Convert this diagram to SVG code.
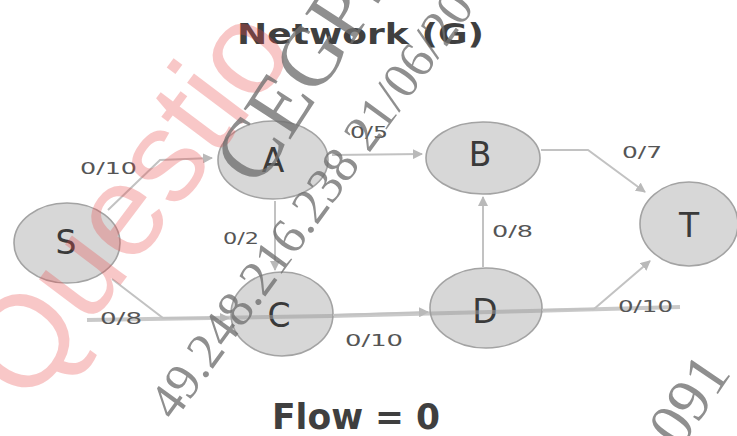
<svg xmlns="http://www.w3.org/2000/svg" width="737" height="436" viewBox="0 0 737 436">
  <defs>
    <style>
      .node ellipse { fill: #d7d7d7; stroke: #a3a3a3; stroke-width: 1.6; }
      .node text { font-family: "DejaVu Sans", "Liberation Sans", sans-serif; font-size: 33px; fill: #3a3a3a; text-anchor: middle; }
      .edge { fill: none; stroke: #c2c2c2; stroke-width: 2; }
      .lbl { font-family: "DejaVu Sans", "Liberation Sans", sans-serif; font-size: 16px; fill: #555; }
      .title { font-family: "DejaVu Sans", "Liberation Sans", sans-serif; font-weight: bold; fill: #3f3f3f; }
      .wm-red { font-family: "Liberation Sans", Arial, sans-serif; fill: #ea4a4a; opacity: 0.3; }
      .wm-grey { font-family: "Liberation Serif", "Times New Roman", serif; fill: #707070; opacity: 0.78; }
    </style>
    <marker id="arrow" viewBox="0 0 10 10" refX="9" refY="5" markerWidth="5" markerHeight="5" orient="auto" markerUnits="strokeWidth">
      <path d="M0,0 L10,5 L0,10 z" fill="#b9b9b9"/>
    </marker>
  </defs>

  <rect width="737" height="436" fill="#ffffff"/>

  <!-- title -->
  <text class="title" x="237" y="44" font-size="29" textLength="247" lengthAdjust="spacingAndGlyphs">Network (G)</text>

  <!-- nodes -->
  <g id="node-S" class="node">
    <ellipse cx="67" cy="243" rx="53" ry="40"/>
    <text x="66" y="254">S</text>
  </g>
  <g id="node-A" class="node">
    <ellipse cx="273" cy="160" rx="55" ry="39"/>
    <text x="273" y="172">A</text>
  </g>
  <g id="node-C" class="node">
    <ellipse cx="282" cy="314" rx="51" ry="42"/>
    <text x="279" y="327">C</text>
  </g>
  <g id="node-B" class="node">
    <ellipse cx="483" cy="158" rx="57" ry="36"/>
    <text x="480" y="166">B</text>
  </g>
  <g id="node-D" class="node">
    <ellipse cx="486" cy="308" rx="56" ry="40"/>
    <text x="485" y="323">D</text>
  </g>
  <g id="node-T" class="node">
    <ellipse cx="689" cy="224" rx="49" ry="42"/>
    <text x="689" y="237">T</text>
  </g>

  <!-- connectors -->
  <g id="edges">
    <!-- shaded rule along the lower path -->
    <path d="M87,320 L330,316 L530,311 L680,307" fill="none" stroke="#9c9c9c" stroke-width="4" opacity="0.55"/>
    <path class="edge" d="M108,210 L160,160 L212,158" marker-end="url(#arrow)"/>
    <path class="edge" d="M112,279 L163,318 L229,318" marker-end="url(#arrow)"/>
    <path class="edge" d="M275,201 L275,270" marker-end="url(#arrow)"/>
    <path class="edge" d="M332,155 L422,154" marker-end="url(#arrow)"/>
    <path class="edge" d="M333,315 L428,312" marker-end="url(#arrow)"/>
    <path class="edge" d="M483,267 L483,197" marker-end="url(#arrow)"/>
    <path class="edge" d="M541,150 L588,150 L645,192" marker-end="url(#arrow)"/>
    <path class="edge" d="M542,310 L594,309 L650,261" marker-end="url(#arrow)"/>
  </g>

  <!-- capacity labels -->
  <g id="labels">
    <text class="lbl" x="80" y="174" textLength="57" lengthAdjust="spacingAndGlyphs">0/10</text>
    <text class="lbl" x="100" y="324" textLength="42" lengthAdjust="spacingAndGlyphs">0/8</text>
    <text class="lbl" x="223" y="244" textLength="36" lengthAdjust="spacingAndGlyphs">0/2</text>
    <text class="lbl" x="350" y="138" textLength="38" lengthAdjust="spacingAndGlyphs">0/5</text>
    <text class="lbl" x="345" y="346" textLength="58" lengthAdjust="spacingAndGlyphs">0/10</text>
    <text class="lbl" x="492" y="237" textLength="41" lengthAdjust="spacingAndGlyphs">0/8</text>
    <text class="lbl" x="622" y="158" textLength="40" lengthAdjust="spacingAndGlyphs">0/7</text>
    <text class="lbl" x="618" y="312" textLength="55" lengthAdjust="spacingAndGlyphs">0/10</text>
  </g>

  <!-- footer -->
  <text class="title" x="272" y="429" font-size="35" textLength="168" lengthAdjust="spacingAndGlyphs">Flow = 0</text>

  <!-- overprinted marks -->
  <text class="wm-red" font-size="130" transform="translate(28,408) rotate(-53)">Questio</text>
  <text class="wm-grey" font-size="85" transform="translate(258,189) rotate(-57)">CEGP2</text>
  <text class="wm-grey" font-size="51" transform="translate(174,422) rotate(-54)">49.248.216.238 21/06/20</text>
  <text class="wm-grey" font-size="62" transform="translate(680,450) rotate(-56)">091</text>
</svg>
